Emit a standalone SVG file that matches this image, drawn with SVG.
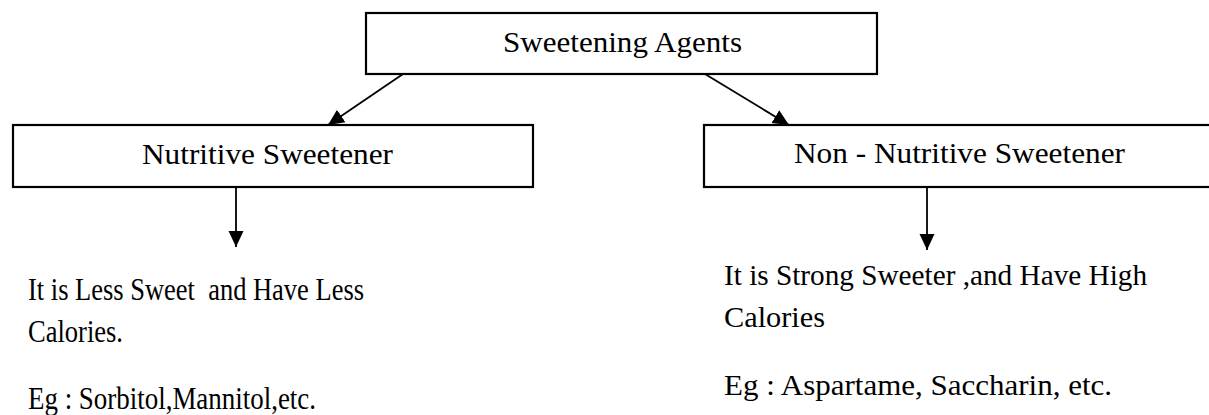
<svg xmlns="http://www.w3.org/2000/svg" width="1209" height="415" viewBox="0 0 1209 415">
<defs>
<marker id="ah" markerUnits="userSpaceOnUse" markerWidth="18" markerHeight="18" viewBox="0 0 18 18" refX="16" refY="9" orient="auto">
<path d="M0,1.5 L16,9 L0,16.5 Z" fill="#000"/>
</marker>
</defs>
<style>
.box{fill:#fff;stroke:#000;stroke-width:2.2}
.t{font-family:"Liberation Serif","Times New Roman",serif;font-size:30px;fill:#000}
.d{font-size:32px}
.c{stroke:#000;stroke-width:1.8;fill:none}
</style>
<rect width="1209" height="415" fill="#fff"/>
<g id="root">
<rect class="box" x="366" y="13" width="511" height="61"/>
<text class="t" x="503" y="52" textLength="239" lengthAdjust="spacingAndGlyphs">Sweetening Agents</text>
</g>
<g id="nutritive">
<rect class="box" x="13" y="125" width="520" height="62"/>
<text class="t" x="142" y="164" textLength="251" lengthAdjust="spacingAndGlyphs">Nutritive Sweetener</text>
</g>
<g id="nonnutritive">
<rect class="box" x="704" y="125" width="520" height="62"/>
<text class="t" x="794" y="163" textLength="331" lengthAdjust="spacingAndGlyphs">Non - Nutritive Sweetener</text>
</g>
<g id="nutritive-desc">
<text class="t d" x="28" y="300" textLength="336" lengthAdjust="spacingAndGlyphs" xml:space="preserve">It is Less Sweet  and Have Less</text>
<text class="t d" x="28" y="342" textLength="95" lengthAdjust="spacingAndGlyphs">Calories.</text>
<text class="t d" x="28" y="409" textLength="288" lengthAdjust="spacingAndGlyphs">Eg : Sorbitol,Mannitol,etc.</text>
</g>
<g id="nonnutritive-desc">
<text class="t" x="724" y="285" textLength="423" lengthAdjust="spacingAndGlyphs">It is Strong Sweeter ,and Have High</text>
<text class="t" x="724" y="327" textLength="101" lengthAdjust="spacingAndGlyphs">Calories</text>
<text class="t" x="724" y="395" textLength="388" lengthAdjust="spacingAndGlyphs">Eg : Aspartame, Saccharin, etc.</text>
</g>
<g id="connectors">
<line class="c" x1="403" y1="74" x2="328" y2="125" marker-end="url(#ah)"/>
<line class="c" x1="705" y1="74" x2="789" y2="125" marker-end="url(#ah)"/>
<line class="c" x1="236" y1="187" x2="236" y2="247" marker-end="url(#ah)"/>
<line class="c" x1="927" y1="187" x2="927" y2="250" marker-end="url(#ah)"/>
</g>
</svg>
